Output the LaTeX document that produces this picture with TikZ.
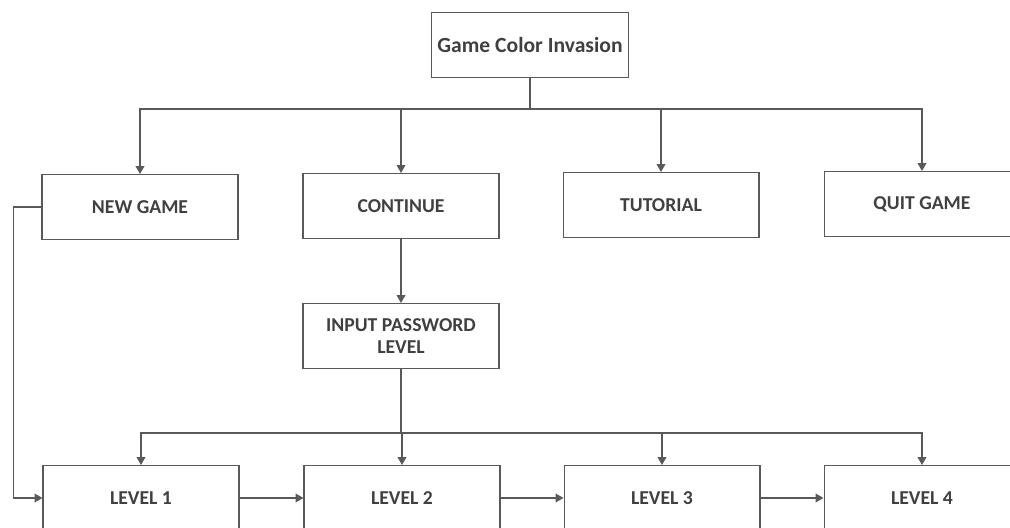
\documentclass[tikz,border=0pt]{standalone}
\usepackage{fontspec}
\setmainfont{Carlito}
\usetikzlibrary{arrows.meta}
\begin{document}
\begin{tikzpicture}[x=0.02cm,y=-0.02cm,
  menubox/.style={draw=black!65,line width=0.6pt,minimum width=3.92cm,minimum height=1.3cm,
    align=center,text=black!75,font=\bfseries\fontsize{11.2}{13}\selectfont},
  link/.style={draw=black!65,line width=0.6pt},
  arr/.style={link,-{Triangle[length=4.5pt,width=5pt]}}]
\useasboundingbox (0,0) rectangle (1010,527);
\clip (0,0) rectangle (1010,527);
% Top: title and main menu
\node[menubox,font=\bfseries\fontsize{12.3}{14}\selectfont] (title) at (530,45) {Game Color Invasion};
\node[menubox] (newgame) at (140,207) {NEW GAME};
\node[menubox] (continue) at (401,206) {CONTINUE};
\node[menubox] (tutorial) at (661,205) {TUTORIAL};
\node[menubox] (quit) at (922,204) {QUIT GAME};
\coordinate (fork) at (530,109);
\draw[link] (title) -- (fork);
\foreach \n in {newgame,continue,tutorial,quit}
  \draw[arr] (fork) -| (\n.north);
% Middle: password
\node[menubox] (password) at (401,336) {INPUT PASSWORD\\LEVEL};
\draw[arr] (continue) -- (password);
% Bottom: levels
\node[menubox] (level1) at (141,498) {LEVEL 1};
\node[menubox] (level2) at (402,498) {LEVEL 2};
\node[menubox] (level3) at (662,498) {LEVEL 3};
\node[menubox] (level4) at (922,498) {LEVEL 4};
\coordinate (split) at (401,433);
\draw[link] (password) -- (split);
\foreach \n in {level1,level2,level3,level4}
  \draw[arr] (split) -| (\n.north);
\draw[arr] (newgame.west) -- ++(-28,0) |- (level1.west);
\draw[arr] (level1) -- (level2);
\draw[arr] (level2) -- (level3);
\draw[arr] (level3) -- (level4);
\end{tikzpicture}
\end{document}
